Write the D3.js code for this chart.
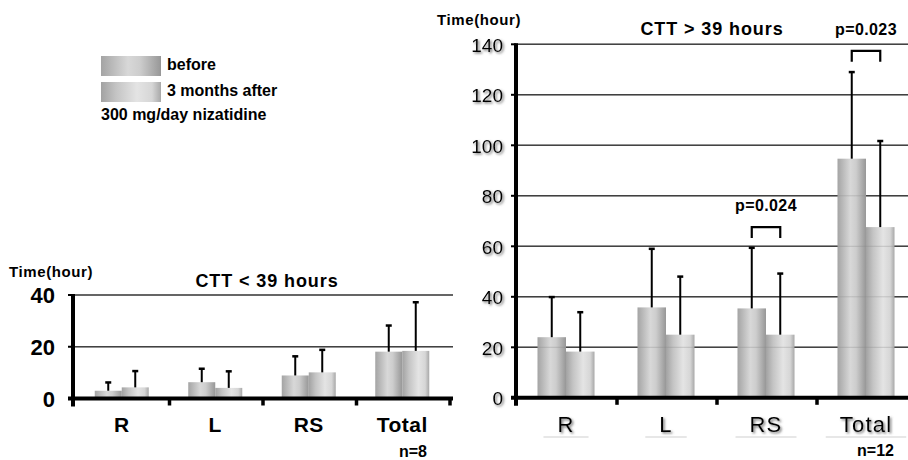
<!DOCTYPE html>
<html>
<head>
<meta charset="utf-8">
<script src="https://cdn.jsdelivr.net/npm/d3@7"></script>
<style>
  body { margin: 0; background: #fff; }
  svg { display: block; font-family: "Liberation Sans", Arial, sans-serif; }
</style>
</head>
<body>
<svg id="chart" width="908" height="460"></svg>
<script>
const categories = ["R", "L", "RS", "Total"];
const groups = ["before", "after"];

// CTT < 39 hours (n=8)
const shortBefore = [3.0, 6.3, 8.9, 18.1];
const shortBeforeErr = [3.2, 5.2, 7.4, 10.1];
const shortAfter = [4.3, 4.1, 10.1, 18.4];
const shortAfterErr = [6.3, 6.4, 8.7, 18.8];
const shortTicks = [0, 20, 40];

// CTT > 39 hours (n=12)
const longBefore = [24.0, 35.8, 35.4, 94.7];
const longBeforeErr = [15.9, 23.2, 24.0, 34.3];
const longAfter = [18.3, 25.0, 25.0, 67.6];
const longAfterErr = [15.6, 23.0, 24.2, 34.1];
const longTicks = [0, 20, 40, 60, 80, 100, 120, 140];

const legendLabels = ["before", "3 months after", "300 mg/day nizatidine"];
const brackets = [
    { cat: "RS", label: "p=0.024", top: 67.6 },
    { cat: "Total", label: "p=0.023", top: 137.4 }
];

const svg = d3.select("#chart");
const defs = svg.append("defs");

// cylinder-ish shading of the bars
const gradBefore = defs.append("linearGradient").attr("id", "gBefore");
[["0%", "#a4a4a4"], ["45%", "#d8d8d8"], ["65%", "#cdcdcd"], ["100%", "#979797"]]
    .forEach(s => gradBefore.append("stop").attr("offset", s[0]).attr("stop-color", s[1]));
const gradAfter = defs.append("linearGradient").attr("id", "gAfter");
[["0%", "#a2a2a2"], ["25%", "#c4c4c4"], ["60%", "#e4e4e4"], ["85%", "#d6d6d6"], ["100%", "#a8a8a8"]]
    .forEach(s => gradAfter.append("stop").attr("offset", s[0]).attr("stop-color", s[1]));
const fills = { before: "url(#gBefore)", after: "url(#gAfter)" };

const shadow = defs.append("filter").attr("id", "shadow")
    .attr("x", "-20%").attr("y", "-20%").attr("width", "150%").attr("height", "150%");
shadow.append("feDropShadow").attr("dx", 1.5).attr("dy", 1.5)
    .attr("stdDeviation", 0.8).attr("flood-color", "#666").attr("flood-opacity", 0.9);

function drawPanel(p) {
    const g = svg.append("g");
    const x = d3.scaleBand().domain(categories).range(p.xRange)
        .paddingInner(p.pad).paddingOuter(p.pad / 2);
    const xSub = d3.scaleBand().domain(groups).range([0, x.bandwidth()]);
    const y = d3.scaleLinear().domain([0, d3.max(p.ticks)]).range(p.yRange);
    const rows = [];
    categories.forEach((c, i) => {
        rows.push({ cat: c, grp: "before", v: p.before[i], e: p.beforeErr[i] });
        rows.push({ cat: c, grp: "after", v: p.after[i], e: p.afterErr[i] });
    });

    // grid lines
    g.append("g").selectAll("line").data(p.ticks.filter(t => t > 0)).join("line")
        .attr("x1", p.axisX).attr("x2", p.gridEnd)
        .attr("y1", d => y(d)).attr("y2", d => y(d))
        .attr("stroke", "#2a2a2a").attr("stroke-width", 1.4);

    // bars
    g.append("g").selectAll("rect").data(rows).join("rect")
        .attr("x", d => x(d.cat) + xSub(d.grp))
        .attr("width", xSub.bandwidth())
        .attr("y", d => y(d.v))
        .attr("height", d => y(0) - y(d.v))
        .attr("fill", d => fills[d.grp]);

    // faint grid showing through the bars
    g.append("g").selectAll("line").data(p.ticks.filter(t => t > 0)).join("line")
        .attr("x1", p.axisX).attr("x2", p.gridEnd)
        .attr("y1", d => y(d)).attr("y2", d => y(d))
        .attr("stroke", "#888").attr("stroke-opacity", 0.35).attr("stroke-width", 1);

    // error bars (upper only)
    const eb = g.append("g").attr("stroke", "#000");
    eb.selectAll(".stem").data(rows).join("line").attr("class", "stem")
        .attr("x1", d => x(d.cat) + xSub(d.grp) + xSub.bandwidth() / 2)
        .attr("x2", d => x(d.cat) + xSub(d.grp) + xSub.bandwidth() / 2)
        .attr("y1", d => y(d.v)).attr("y2", d => y(d.v + d.e))
        .attr("stroke-width", 2);
    eb.selectAll(".cap").data(rows).join("line").attr("class", "cap")
        .attr("x1", d => x(d.cat) + xSub(d.grp) + xSub.bandwidth() / 2 - 3)
        .attr("x2", d => x(d.cat) + xSub(d.grp) + xSub.bandwidth() / 2 + 3)
        .attr("y1", d => y(d.v + d.e)).attr("y2", d => y(d.v + d.e))
        .attr("stroke-width", 2.5);

    // y axis
    g.append("line").attr("x1", p.axisX).attr("x2", p.axisX)
        .attr("y1", y(d3.max(p.ticks)) - 1).attr("y2", y(0) + 8)
        .attr("stroke", "#000").attr("stroke-width", 4);
    g.append("g").selectAll("line").data(p.ticks).join("line")
        .attr("x1", p.axisX - 5).attr("x2", p.axisX)
        .attr("y1", d => y(d)).attr("y2", d => y(d))
        .attr("stroke", "#000").attr("stroke-width", 2);
    g.append("g").selectAll("text").data(p.ticks).join("text")
        .attr("x", p.tickLabelX).attr("y", d => y(d)).attr("dy", "0.38em")
        .attr("text-anchor", "end")
        .style("font-size", p.tickFont.size + "px")
        .style("font-weight", p.tickFont.weight)
        .attr("filter", p.shadow ? "url(#shadow)" : null)
        .text(d => d);

    // x axis with ticks between categories
    g.append("line").attr("x1", p.axisX - 5).attr("x2", p.xAxisEnd)
        .attr("y1", y(0)).attr("y2", y(0))
        .attr("stroke", "#000").attr("stroke-width", 4);
    g.append("g").selectAll("line").data(categories).join("line")
        .attr("x1", d => x(d) + x.bandwidth() + x.step() * p.pad / 2 + 1)
        .attr("x2", d => x(d) + x.bandwidth() + x.step() * p.pad / 2 + 1)
        .attr("y1", y(0)).attr("y2", y(0) + 7)
        .attr("stroke", "#000").attr("stroke-width", 3.5);

    // category labels
    const labels = g.append("g").selectAll("text").data(categories).join("text")
        .attr("x", d => x(d) + x.bandwidth() / 2)
        .attr("y", p.catY)
        .attr("text-anchor", "middle")
        .style("font-size", p.catFont.size + "px")
        .style("font-weight", p.catFont.weight)
        .style("letter-spacing", p.catFont.spacing + "px")
        .attr("filter", p.shadow ? "url(#shadow)" : null)
        .text(d => d);
    if (p.underline) {
        labels.each(function (d) {
            const b = this.getBBox();
            g.append("line")
                .attr("x1", x(d) + x.bandwidth() / 2 - b.width / 2 - 14)
                .attr("x2", x(d) + x.bandwidth() / 2 + b.width / 2 + 14)
                .attr("y1", p.catY + 5).attr("y2", p.catY + 5)
                .attr("stroke", "#cfcfcf").attr("stroke-width", 1);
        });
    }

    g.append("text").attr("x", p.nX).attr("y", p.nY).attr("text-anchor", "end")
        .style("font-size", "16px").style("font-weight", "bold").text(p.n);

    g.append("text").attr("x", p.titleX).attr("y", p.titleY).attr("text-anchor", "middle")
        .style("font-size", "18px").style("font-weight", "bold").style("letter-spacing", "0.9px")
        .text(p.title);
    g.append("text").attr("x", p.unitX).attr("y", p.unitY)
        .style("font-size", "15px").style("font-weight", "bold").style("letter-spacing", "0.6px")
        .text("Time(hour)");

    return { g, x, xSub, y };
}

drawPanel({
    xRange: [75, 449], pad: 0.4225, yRange: [398.5, 295], ticks: shortTicks,
    before: shortBefore, beforeErr: shortBeforeErr, after: shortAfter, afterErr: shortAfterErr,
    axisX: 73, gridEnd: 453, xAxisEnd: 453, tickLabelX: 55,
    tickFont: { size: 22, weight: "bold" }, shadow: false,
    catY: 432, catFont: { size: 21, weight: "bold", spacing: 0.5 }, underline: false,
    n: "n=8", nX: 427, nY: 457,
    title: "CTT < 39 hours", titleX: 267, titleY: 287,
    unitX: 9, unitY: 277
});

const right = drawPanel({
    xRange: [516, 916], pad: 0.43, yRange: [397.8, 44.3], ticks: longTicks,
    before: longBefore, beforeErr: longBeforeErr, after: longAfter, afterErr: longAfterErr,
    axisX: 516, gridEnd: 908, xAxisEnd: 908, tickLabelX: 503,
    tickFont: { size: 19, weight: "normal" }, shadow: true,
    catY: 432, catFont: { size: 22, weight: "normal", spacing: 1.2 }, underline: true,
    n: "n=12", nX: 894, nY: 456,
    title: "CTT > 39 hours", titleX: 712, titleY: 35,
    unitX: 437, unitY: 25
});

// significance brackets
const bk = right.g.append("g");
brackets.forEach(b => {
    const xa = right.x(b.cat) + right.xSub("before") + right.xSub.bandwidth() / 2;
    const xb = right.x(b.cat) + right.xSub("after") + right.xSub.bandwidth() / 2;
    const yt = right.y(b.top);
    bk.append("path")
        .attr("d", `M${xa},${yt + 11}V${yt}H${xb}V${yt + 11}`)
        .attr("fill", "none").attr("stroke", "#000").attr("stroke-width", 2.2);
    bk.append("text").attr("x", (xa + xb) / 2).attr("y", yt - 16)
        .attr("text-anchor", "middle")
        .style("font-size", "16px").style("font-weight", "bold").style("letter-spacing", "0.4px")
        .text(b.label);
});

// legend
const legend = svg.append("g").attr("transform", "translate(101,56)");
groups.forEach((grp, i) => {
    legend.append("rect").attr("x", 0).attr("y", i * 26).attr("width", 60).attr("height", 20)
        .attr("fill", fills[grp]);
    legend.append("text").attr("x", 66).attr("y", i * 26 + 14)
        .style("font-size", "16px").style("font-weight", "bold")
        .text(legendLabels[i]);
});
legend.append("text").attr("x", 0).attr("y", 64)
    .style("font-size", "16px").style("font-weight", "bold")
    .text(legendLabels[2]);
</script>
</body>
</html>
